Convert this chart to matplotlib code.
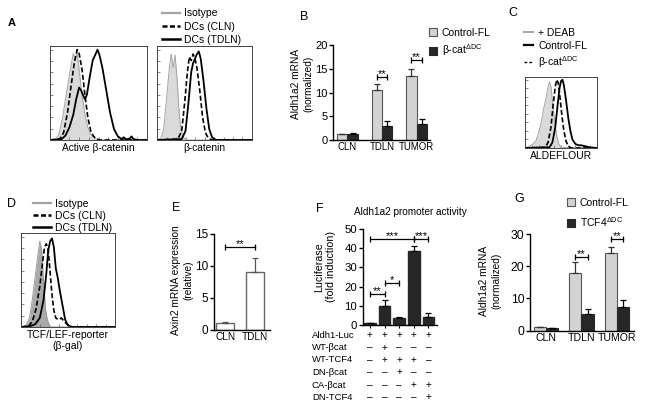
import matplotlib
matplotlib.use('Agg')
import matplotlib.pyplot as plt
import numpy as np
from matplotlib.lines import Line2D
from matplotlib.patches import Patch

plt.rcParams['font.family'] = ['Liberation Sans', 'DejaVu Sans']
plt.rcParams['mathtext.fontset'] = 'custom'
plt.rcParams['mathtext.rm'] = 'Liberation Sans'
plt.rcParams['mathtext.it'] = 'Liberation Sans:italic'
plt.rcParams['mathtext.bf'] = 'Liberation Sans:bold'

# ---------------- data ----------------
# flow histograms, x and y in % of the plot box
a1_iso = ([0, 6, 9, 13, 17, 21, 24, 26, 28, 30, 33, 36, 39, 42, 46, 50, 100],
          [0, 1, 6, 25, 52, 78, 96, 88, 97, 78, 50, 28, 14, 6, 2, 0, 0])
a1_cln = ([0, 10, 14, 18, 22, 25, 28, 30, 33, 36, 39, 42, 45, 48, 52, 100],
          [0, 1, 8, 30, 62, 85, 100, 96, 78, 50, 25, 10, 4, 1, 0, 0])
a1_tdln = ([0, 12, 16, 20, 24, 27, 30, 32, 34, 36, 38, 41, 44, 47, 49, 51, 54, 58, 62, 66, 70, 74, 76, 78, 82, 84, 86, 90, 100],
           [0, 1, 5, 14, 28, 45, 58, 55, 50, 45, 50, 70, 88, 95, 100, 94, 80, 55, 30, 12, 4, 1, 3, 1, 1, 4, 1, 0, 0])

a2_iso = ([0, 4, 7, 10, 13, 15, 17, 19, 21, 23, 25, 28, 32, 100],
          [0, 2, 12, 45, 80, 95, 80, 94, 70, 35, 12, 3, 0, 0])
a2_cln = ([0, 22, 26, 29, 32, 34, 36, 38, 40, 42, 45, 48, 51, 54, 58, 100],
          [0, 1, 10, 40, 75, 92, 88, 95, 90, 80, 55, 25, 8, 2, 0, 0])
a2_tdln = ([0, 26, 30, 33, 36, 38, 40, 42, 44, 46, 49, 52, 55, 58, 62, 100],
           [0, 1, 10, 40, 75, 85, 90, 95, 98, 90, 65, 35, 12, 3, 0, 0])

c_deab = ([0, 5, 10, 15, 19, 23, 26, 29, 32, 34, 36, 38, 41, 44, 47, 50, 100],
          [0, 2, 5, 10, 22, 40, 58, 72, 90, 97, 90, 70, 40, 18, 6, 1, 0])
c_ko = ([0, 28, 32, 36, 39, 42, 44, 46, 48, 51, 54, 57, 60, 64, 100],
        [0, 1, 8, 30, 62, 90, 100, 96, 80, 50, 25, 10, 3, 0, 0])
c_ctrl = ([0, 34, 38, 42, 45, 48, 50, 52, 54, 57, 60, 63, 66, 70, 74, 78, 82, 86, 90, 100],
          [0, 1, 8, 30, 60, 88, 98, 100, 92, 70, 45, 25, 12, 6, 4, 4, 3, 2, 1, 0])

d_iso = ([0, 5, 9, 12, 15, 18, 20, 22, 24, 26, 28, 31, 100],
         [0, 1, 10, 30, 55, 80, 95, 85, 50, 20, 8, 0, 0])
d_cln = ([0, 8, 12, 16, 20, 23, 25, 27, 29, 31, 33, 35, 37, 40, 43, 46, 50, 55, 100],
         [0, 1, 6, 20, 45, 72, 88, 92, 85, 60, 35, 18, 10, 8, 10, 6, 2, 0, 0])
d_tdln = ([0, 10, 15, 20, 24, 27, 29, 31, 33, 35, 37, 39, 41, 44, 47, 50, 54, 100],
          [0, 1, 3, 10, 30, 60, 85, 95, 98, 88, 65, 55, 42, 25, 8, 2, 0, 0])

# B: Aldh1a2 mRNA, beta-cat
b_groups = ['CLN', 'TDLN', 'TUMOR']
b_ctrl = [1.25, 10.5, 13.5]
b_ctrl_err = [0.1, 1.3, 1.4]
b_ko = [1.3, 3.0, 3.5]
b_ko_err = [0.15, 1.1, 0.9]
b_sig = [(1, 13.2, '**'), (2, 16.8, '**')]

# E: Axin2
e_groups = ['CLN', 'TDLN']
e_vals = [1.05, 9.1]
e_err = [0.15, 2.1]
e_sig = (0, 1, 13.0, '**')

# F: luciferase
f_vals = [1.0, 10.0, 3.5, 38.5, 4.3]
f_err = [0.15, 3.0, 0.7, 2.8, 2.1]
f_sig = [(0, 1, 16.1, '**'), (1, 2, 22.0, '*'), (0, 3, 44.8, '***'), (3, 4, 44.8, '***')]
f_rows = ['Aldh1-Luc', 'WT-βcat', 'WT-TCF4', 'DN-βcat', 'CA-βcat', 'DN-TCF4']
f_signs = ['+++++', '-+---', '-+++-', '--+--', '---++', '----+']

# G: Aldh1a2 mRNA, TCF4
g_groups = ['CLN', 'TDLN', 'TUMOR']
g_ctrl = [1.1, 18.0, 24.2]
g_ctrl_err = [0.15, 3.2, 1.9]
g_ko = [0.7, 5.2, 7.5]
g_ko_err = [0.1, 1.4, 1.9]
g_sig = [(1, 22.8, '**'), (2, 28.4, '**')]

# ---------------- style ----------------
W, H = 647, 408
LIGHT = '#d3d3d3'
DARK = '#272727'
ISO_FILL = '#dadada'
ISO_EDGE = '#a3a3a3'
LAB_FS = 7.3
LEG_FS = 7.5

fig = plt.figure(figsize=(W / 100, H / 100), dpi=100)


def px_rect(l, t, r, b):
    return [l / W, 1 - b / H, (r - l) / W, (b - t) / H]


def fx(x):
    return x / W


def fy(y):
    return 1 - y / H


def histo(ax, iso, dashed, solid, iso_fill=ISO_FILL, iso_edge=ISO_EDGE):
    ax.fill_between(iso[0], iso[1], color=iso_fill, lw=0)
    ax.plot(iso[0], iso[1], color=iso_edge, lw=0.7)
    ax.plot(dashed[0], dashed[1], color='k', lw=1.2, ls=(0, (3, 1.5)))
    ax.plot(solid[0], solid[1], color='k', lw=1.3)
    ax.set_xlim(0, 100)
    ax.set_ylim(0, 104)
    ax.set_xticks(np.arange(0, 101, 10))
    ax.set_yticks(np.arange(0, 101, 12.5))
    ax.tick_params(direction='in', length=2, width=0.5, labelleft=False,
                   labelbottom=False, colors='#555')
    for s in ax.spines.values():
        s.set_linewidth(0.7)
        s.set_color('#444')


def bar_axes(ax, ymax, ystep, tick_fs, cat_fs):
    ax.set_ylim(0, ymax)
    ax.set_yticks(np.arange(0, ymax + 0.1, ystep))
    for s in ['top', 'right']:
        ax.spines[s].set_visible(False)
    for s in ['left', 'bottom']:
        ax.spines[s].set_linewidth(1.0)
    ax.tick_params(axis='y', length=3, width=1.0, labelsize=tick_fs, pad=1)
    ax.tick_params(axis='x', length=0, labelsize=cat_fs, pad=1.5)


def up_err(ax, x, v, e, color='k'):
    ax.errorbar(x, v, yerr=[np.zeros(len(e)), e], fmt='none', ecolor=color,
                elinewidth=0.9, capsize=2.5, capthick=0.9)


def bracket(ax, x1, x2, y, txt):
    ax.plot([x1, x2], [y, y], color='k', lw=0.9, marker='|', ms=5, mew=0.9)
    ax.annotate(txt, xy=((x1 + x2) / 2, y), xytext=(0, -1.5),
                textcoords='offset points', ha='center', va='bottom', fontsize=8)


def grouped(ax, groups, ctrl, ctrl_err, ko, ko_err, sig, width):
    x = np.arange(len(groups))
    ax.bar(x - width / 2, ctrl, width, color=LIGHT, edgecolor='#555', lw=0.8)
    ax.bar(x + width / 2, ko, width, color=DARK, edgecolor=DARK, lw=0.8)
    up_err(ax, x - width / 2, ctrl, ctrl_err, '#333')
    up_err(ax, x + width / 2, ko, ko_err)
    for gi, y, txt in sig:
        bracket(ax, gi - width / 2, gi + width / 2, y, txt)
    ax.set_xticks(x)
    ax.set_xticklabels(groups)


# ---------------- panel A ----------------
axA1 = fig.add_axes(px_rect(50, 46, 147, 140))
histo(axA1, a1_iso, a1_cln, a1_tdln)
axA1.set_xlabel('Active β-catenin', fontsize=7.3, labelpad=2)
axA2 = fig.add_axes(px_rect(157, 46, 252, 140))
histo(axA2, a2_iso, a2_cln, a2_tdln)
axA2.set_xlabel('β-catenin', fontsize=7.3, labelpad=2)

hist_handles = [Line2D([], [], color=ISO_EDGE, lw=1.6),
                Line2D([], [], color='k', lw=1.8, ls=(0, (2, 1))),
                Line2D([], [], color='k', lw=1.8)]
fig.legend(hist_handles, ['Isotype', 'DCs (CLN)', 'DCs (TDLN)'],
           loc='upper left', bbox_to_anchor=(fx(162), fy(8.5)), frameon=False,
           fontsize=LEG_FS, handlelength=1.7, handletextpad=0.45,
           labelspacing=0.3, borderpad=0, borderaxespad=0)

# ---------------- panel B ----------------
axB = fig.add_axes(px_rect(333, 44.7, 430, 140.3))
grouped(axB, b_groups, b_ctrl, b_ctrl_err, b_ko, b_ko_err, b_sig, 0.3)
bar_axes(axB, 20, 5, 8, 6.9)
axB.set_xlim(-0.42, 2.39)
fig.text(fx(302), fy(84), 'Aldh1a2 mRNA\n(normalized)', rotation=90,
         ha='center', va='center', fontsize=LAB_FS, linespacing=1.3)
sq_handles = [Patch(facecolor=LIGHT, edgecolor='#555', lw=0.8),
              Patch(facecolor=DARK, edgecolor=DARK, lw=0.8)]
fig.legend(sq_handles, ['Control-FL', 'β-cat$^{\\mathregular{ΔDC}}$'],
           loc='upper left', bbox_to_anchor=(fx(429), fy(28)), frameon=False,
           fontsize=LEG_FS, handlelength=0.8, handleheight=0.8,
           handletextpad=0.4, labelspacing=0.45, borderpad=0, borderaxespad=0)

# ---------------- panel C ----------------
axC = fig.add_axes(px_rect(525, 77, 597, 148))
histo(axC, c_deab, c_ko, c_ctrl)
axC.set_xlabel('ALDEFLOUR', fontsize=7.5, labelpad=2)
c_handles = [Line2D([], [], color=ISO_EDGE, lw=1.4),
             Line2D([], [], color='k', lw=1.6),
             Line2D([], [], color='k', lw=1.0, ls=(0, (2, 1.5)))]
fig.legend(c_handles, ['+ DEAB', 'Control-FL', 'β-cat$^{\\mathregular{ΔDC}}$'],
           loc='upper left', bbox_to_anchor=(fx(524), fy(28)), frameon=False,
           fontsize=LEG_FS, handlelength=0.9, handletextpad=0.45,
           labelspacing=0.28, borderpad=0, borderaxespad=0)

# ---------------- panel D ----------------
axD = fig.add_axes(px_rect(21, 233, 115, 327))
histo(axD, d_iso, d_cln, d_tdln, iso_fill='#a9a9a9', iso_edge='#999999')
axD.set_xlabel('TCF/LEF-reporter\n(β-gal)', fontsize=7.5, labelpad=2, linespacing=1.2)
fig.legend(hist_handles, ['Isotype', 'DCs (CLN)', 'DCs (TDLN)'],
           loc='upper left', bbox_to_anchor=(fx(33), fy(198.5)), frameon=False,
           fontsize=LEG_FS, handlelength=1.7, handletextpad=0.45,
           labelspacing=0.2, borderpad=0, borderaxespad=0)

# ---------------- panel E ----------------
axE = fig.add_axes(px_rect(214, 234, 270, 330))
ex = np.arange(len(e_groups))
axE.bar(ex, e_vals, 0.62, color='white', edgecolor='#666', lw=1.0)
up_err(axE, ex, e_vals, e_err, '#555')
bracket(axE, e_sig[0], e_sig[1], e_sig[2], e_sig[3])
axE.set_xticks(ex)
axE.set_xticklabels(e_groups)
bar_axes(axE, 15, 5, 8.5, 7.2)
axE.set_xlim(-0.37, 1.5)
fig.text(fx(182), fy(280), 'Axin2 mRNA expression\n(relative)', rotation=90,
         ha='center', va='center', fontsize=LAB_FS, linespacing=1.3)

# ---------------- panel F ----------------
axF = fig.add_axes(px_rect(362.7, 229, 437, 325))
fx_pos = np.arange(len(f_vals))
axF.bar(fx_pos, f_vals, 0.8, color=DARK, edgecolor=DARK)
up_err(axF, fx_pos, f_vals, f_err)
for i1, i2, y, txt in f_sig:
    bracket(axF, i1, i2, y, txt)
bar_axes(axF, 50, 10, 8.2, 7)
axF.set_xticks(fx_pos)
axF.set_xticklabels([])
axF.tick_params(axis='x', length=2, width=0.8)
axF.set_xlim(-0.5, 4.59)
fig.text(fx(410), fy(212), 'Aldh1a2 promoter activity', fontsize=7.2,
         ha='center', va='center')
fig.text(fx(325), fy(267), 'Luciferase\n(fold induction)', rotation=90,
         ha='center', va='center', fontsize=LAB_FS + 0.4, linespacing=1.25)
row_y = [335, 347.5, 360, 372.5, 385, 397]
for label, signs, ry in zip(f_rows, f_signs, row_y):
    fig.text(fx(312), fy(ry), label, ha='left', va='center', fontsize=6.8)
    for xi, s in zip(fx_pos, signs):
        axF.annotate('+' if s == '+' else '–', xy=(xi, fy(ry)),
                     xycoords=('data', 'figure fraction'),
                     ha='center', va='center', fontsize=7.2)

# ---------------- panel G ----------------
axG = fig.add_axes(px_rect(530, 234, 634, 330.7))
grouped(axG, g_groups, g_ctrl, g_ctrl_err, g_ko, g_ko_err, g_sig, 0.34)
bar_axes(axG, 30, 10, 8.8, 7.6)
axG.set_xlim(-0.45, 2.48)
fig.text(fx(490), fy(281), 'Aldh1a2 mRNA\n(normalized)', rotation=90,
         ha='center', va='center', fontsize=LAB_FS, linespacing=1.3)
fig.legend(sq_handles, ['Control-FL', 'TCF4$^{\\mathregular{ΔDC}}$'],
           loc='upper left', bbox_to_anchor=(fx(567), fy(198)), frameon=False,
           fontsize=LEG_FS, handlelength=0.8, handleheight=0.8,
           handletextpad=0.4, labelspacing=0.7, borderpad=0, borderaxespad=0)

# ---------------- panel letters ----------------
fig.text(fx(11.5), fy(23.5), 'A', fontsize=8, fontweight='bold', ha='center', va='center')
for letter, x, y in [('B', 304, 17), ('C', 513, 12.5), ('D', 11, 204),
                     ('E', 176, 208), ('F', 320, 209), ('G', 519, 199)]:
    fig.text(fx(x), fy(y), letter, fontsize=9, ha='center', va='center')

fig.savefig('out.png', dpi=100)
